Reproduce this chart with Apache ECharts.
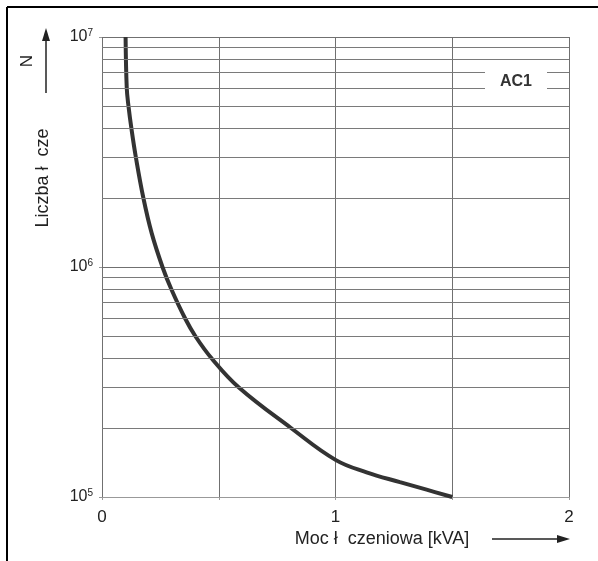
<!DOCTYPE html>
<html>
<head>
<meta charset="utf-8">
<title>AC1</title>
<script src="https://cdn.jsdelivr.net/npm/echarts@6/dist/echarts.min.js"></script>
<style>
    html, body { margin: 0; padding: 0; background: #fff; }
    #chart { width: 598px; height: 561px; }
</style>
</head>
<body>
<div id="chart"></div>
<script>
// moc łączeniowa [kVA] i liczba łączeń N (odczyt z wykresu)
var powerKva = [0.101, 0.106, 0.1135, 0.126, 0.145, 0.177, 0.213, 0.259, 0.297, 0.355, 0.400, 0.470, 0.585, 0.808, 1.0, 1.133, 1.276, 1.39, 1.5];
var cycles = [1e7, 6e6, 5e6, 4e6, 3e6, 2e6, 1.4e6, 1e6, 8e5, 6e5, 5e5, 4e5, 3e5, 2e5, 1.45e5, 1.28e5, 1.16e5, 1.076e5, 1e5];
// linie pomocnicze 2..9 x 10^k
var minorLines = [2e5, 3e5, 4e5, 5e5, 6e5, 7e5, 8e5, 9e5, 2e6, 3e6, 4e6, 5e6, 6e6, 7e6, 8e6, 9e6];
var xTicks = [0, 1, 2];

var font = '"Liberation Sans", Arial, sans-serif';

var curveData = [];
for (var i = 0; i < powerKva.length; i++) {
    curveData.push([powerKva[i], cycles[i]]);
}

var option = {
    animation: false,
    backgroundColor: '#fff',
    grid: { left: 102, top: 37, right: 29, bottom: 64 },
    xAxis: {
        type: 'value',
        min: 0,
        max: 2,
        interval: 0.5,
        axisLine: { lineStyle: { color: '#999', width: 1 } },
        axisTick: { show: true, length: 3, lineStyle: { color: '#999' } },
        axisLabel: {
            margin: 12,
            fontFamily: font,
            fontSize: 17,
            color: '#222',
            formatter: function(v) {
                return xTicks.indexOf(v) >= 0 ? String(v) : '';
            }
        },
        splitLine: { show: true, lineStyle: { color: '#707070', width: 1 } }
    },
    yAxis: {
        type: 'log',
        logBase: 10,
        min: 1e5,
        max: 1e7,
        axisLine: { show: false },
        axisTick: { show: true, length: 3, lineStyle: { color: '#999' } },
        axisLabel: {
            margin: 9,
            fontFamily: font,
            fontSize: 16,
            color: '#222',
            formatter: function(v) {
                return '10{sup|' + Math.round(Math.log(v) / Math.LN10) + '}';
            },
            rich: {
                sup: { fontFamily: font, fontSize: 10, color: '#222', padding: [0, 0, 8, 0] }
            }
        },
        splitLine: { show: true, lineStyle: { color: '#707070', width: 1 } }
    },
    series: [{
            name: 'siatka',
            type: 'line',
            data: [],
            z: 1,
            markLine: {
                silent: true,
                symbol: 'none',
                label: { show: false },
                lineStyle: { color: '#7a7a7a', width: 1, type: 'solid' },
                data: minorLines.map(function(v) { return { yAxis: v }; })
            }
        },
        {
            name: 'AC1',
            type: 'line',
            smooth: 0.4,
            showSymbol: false,
            z: 3,
            lineStyle: { color: '#333', width: 4 },
            data: curveData
        }
    ],
    graphic: [
        // ramka
        { type: 'line', shape: { x1: 7, y1: 7, x2: 598, y2: 7 }, style: { stroke: '#000', lineWidth: 2 } },
        { type: 'line', shape: { x1: 7, y1: 7, x2: 7, y2: 561 }, style: { stroke: '#000', lineWidth: 2 } },
        // etykieta AC1
        { type: 'rect', shape: { x: 485, y: 66, width: 62, height: 30 }, style: { fill: '#fff' }, z: 10 },
        {
            type: 'text', x: 516, y: 82, z: 11,
            style: { text: 'AC1', font: 'bold 16px ' + font, fill: '#333', align: 'center', verticalAlign: 'middle' }
        },
        // opis osi X
        {
            type: 'text', x: 382, y: 539,
            style: { text: 'Moc ł  czeniowa [kVA]', font: '18px ' + font, fill: '#222', align: 'center', verticalAlign: 'middle' }
        },
        { type: 'line', shape: { x1: 492, y1: 539, x2: 560, y2: 539 }, style: { stroke: '#222', lineWidth: 1.5 } },
        { type: 'polygon', shape: { points: [[570, 539], [557, 535], [557, 543]] }, style: { fill: '#222' } },
        // opis osi Y
        {
            type: 'text', x: 43, y: 178, rotation: Math.PI / 2,
            style: { text: 'Liczba ł  cze', font: '18px ' + font, fill: '#222', align: 'center', verticalAlign: 'middle' }
        },
        {
            type: 'text', x: 27, y: 61, rotation: Math.PI / 2,
            style: { text: 'N', font: '17px ' + font, fill: '#222', align: 'center', verticalAlign: 'middle' }
        },
        { type: 'line', shape: { x1: 46, y1: 93, x2: 46, y2: 38 }, style: { stroke: '#222', lineWidth: 1.5 } },
        { type: 'polygon', shape: { points: [[46, 28], [42, 41], [50, 41]] }, style: { fill: '#222' } }
    ]
};

var chart = echarts.init(document.getElementById('chart'));
chart.setOption(option, true);
window.onresize = function() {
    chart.resize();
};
</script>
</body>
</html>
